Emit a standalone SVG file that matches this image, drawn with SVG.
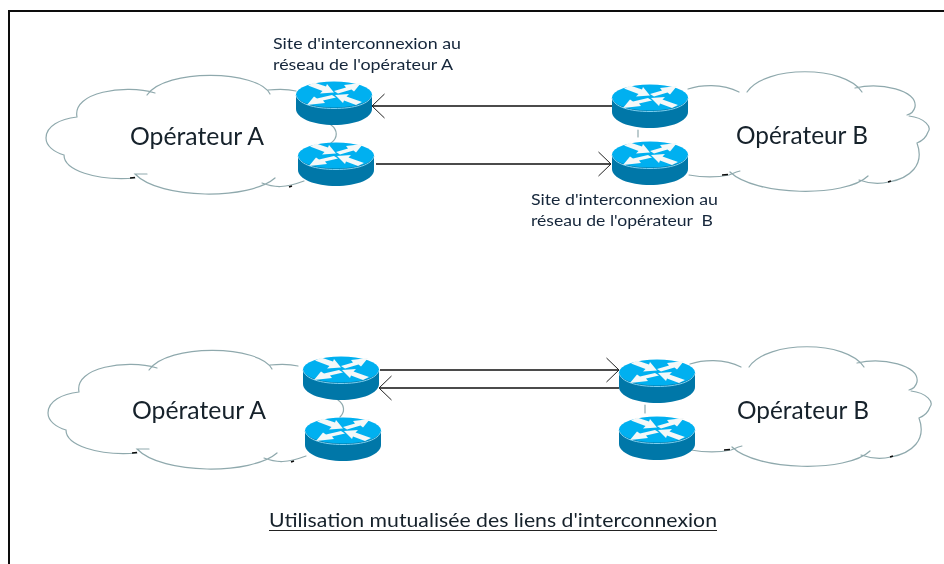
<svg xmlns="http://www.w3.org/2000/svg" width="944" height="564" viewBox="0 0 944 564">
<style>
.cloud{fill:none;stroke:#8fa9ad;stroke-width:1.2;stroke-linecap:round}
.tick{fill:none;stroke:#111;stroke-width:1.6}
.link{stroke:#111;stroke-width:1.5;fill:none}
.big{font:25px Lato,"Liberation Sans",sans-serif;fill:#15202b}
.small{font:15px Lato,"Liberation Sans",sans-serif;fill:#15263a}
.cap{font:19px Lato,"Liberation Sans",sans-serif;fill:#15202b}
</style>
<defs>
<filter id="soft" x="-2%" y="-2%" width="104%" height="104%"><feGaussianBlur stdDeviation="0.35"/></filter>
<marker id="open" viewBox="0 0 14 26" refX="13.5" refY="13" markerWidth="14" markerHeight="26" markerUnits="userSpaceOnUse" orient="auto-start-reverse">
<path d="M1 1L13.5 13L1 25" fill="none" stroke="#222" stroke-width="1"/>
</marker>
<g id="router">
<path d="M0 14V28C0 37 17 44 38 44S76 37 76 28V14Z" fill="#0077a8"/>
<ellipse cx="38" cy="13.500" rx="38" ry="13" fill="#00b0f0"/>
<path d="M0 14C2 23 18 27.500 38 27.500S74 23 76 14" fill="none" stroke="#7fd0ef" stroke-width="1"/>
<g fill="#f4f8f8">
<polygon points="12,4.500 18,1.500 30,5.500 31,3 38,11.500 24,12.500 26.500,10"/>
<polygon points="42,12.500 38,10 50,6.500 48,4 65,2 58,10.500 55.500,8.500"/>
<polygon points="36,14 40,16.500 27,19.500 29,22 11,24 18,15.500 21,17.500"/>
<polygon points="66,21 60,24 48,19.500 47,22 39,14 53,13 50.500,15.500"/>
</g>
</g>
<g id="cloudA">
<path class="cloud" d="M296 91C288 89 278 89 268 90M270 94C258 70 165 68 147 95M155 93C125 84 72 92 77 117M77 117C60 119 46 126 46 138C46 146 54 152 64 155C64 170 95 181 135 178M147 174C143 174 139 174 135 174C160 200 250 200 275 178M262 183C275 188 285 188 304 181"/>
<path class="tick" d="M130 178L135 177.500M289 187L292 186"/>
</g>
<g id="cloudB">
<path class="cloud" d="M688 89C700 85 722 83 739 92M747 92C765 65 845 65 862 92M855 88C880 82 918 90 915 107C914 111 911 114 907 115M909 116C925 118 932 127 928 132C926 138 922 141 917 143C925 165 910 178 889 182C880 184 870 184 859 180M868 176C845 198 755 196 730 172M740 171C735 172 732 174 729 175C715 178 700 177 689 175"/>
<path class="tick" d="M722 175L728 174.500M888 182L891 181"/>
</g>
</defs>
<g filter="url(#soft)">
<rect x="9" y="11" width="940" height="560" fill="#fff" stroke="#111" stroke-width="2"/>
<g id="connectors">
<path class="link" marker-start="url(#open)" d="M372 106H612"/>
<path class="link" marker-end="url(#open)" d="M376 164H611"/>
<path class="link" marker-end="url(#open)" d="M380 370H619"/>
<path class="link" marker-start="url(#open)" d="M379 388H619"/>
<path class="cloud" d="M331 125C338 130 338 138 331 143"/>
<path class="cloud" d="M638 130V137"/>
<path class="cloud" d="M338 400C345 405 345 412 340 417"/>
<path class="cloud" d="M645 405V413"/>
</g>
<g id="cloud-a-top"><use href="#cloudA"/><text class="big" x="130" y="145" textLength="134" lengthAdjust="spacingAndGlyphs">Opérateur A</text></g>
<g id="cloud-b-top"><use href="#cloudB"/><text class="big" x="736" y="144" textLength="132" lengthAdjust="spacingAndGlyphs">Opérateur B</text></g>
<g id="cloud-a-bottom"><use href="#cloudA" x="2" y="275"/><text class="big" x="132" y="419" textLength="134" lengthAdjust="spacingAndGlyphs">Opérateur A</text></g>
<g id="cloud-b-bottom"><use href="#cloudB" x="2" y="275"/><text class="big" x="737" y="419" textLength="132" lengthAdjust="spacingAndGlyphs">Opérateur B</text></g>
<g id="router-a1-top"><use href="#router" x="296" y="81"/></g>
<g id="router-a2-top"><use href="#router" x="298" y="142"/></g>
<g id="router-b1-top"><use href="#router" x="612" y="84"/></g>
<g id="router-b2-top"><use href="#router" x="612" y="141"/></g>
<g id="router-a1-bottom"><use href="#router" x="303" y="356"/></g>
<g id="router-a2-bottom"><use href="#router" x="305" y="417"/></g>
<g id="router-b1-bottom"><use href="#router" x="619" y="359"/></g>
<g id="router-b2-bottom"><use href="#router" x="619" y="416"/></g>
<g id="label-a">
<text class="small" x="273" y="49" textLength="188" lengthAdjust="spacingAndGlyphs">Site d'interconnexion au</text>
<text class="small" x="273" y="70" textLength="180" lengthAdjust="spacingAndGlyphs">réseau de l'opérateur A</text>
</g>
<g id="label-b">
<text class="small" x="531" y="205" textLength="187" lengthAdjust="spacingAndGlyphs">Site d'interconnexion au</text>
<text class="small" x="531" y="226" textLength="182" lengthAdjust="spacingAndGlyphs" xml:space="preserve">réseau de l'opérateur  B</text>
</g>
<g id="caption">
<text class="cap" x="269" y="527" textLength="448" lengthAdjust="spacingAndGlyphs">Utilisation mutualisée des liens d'interconnexion</text>
<path d="M269 530.500H717" stroke="#222" stroke-width="1.2"/>
</g>
</g>
</svg>
